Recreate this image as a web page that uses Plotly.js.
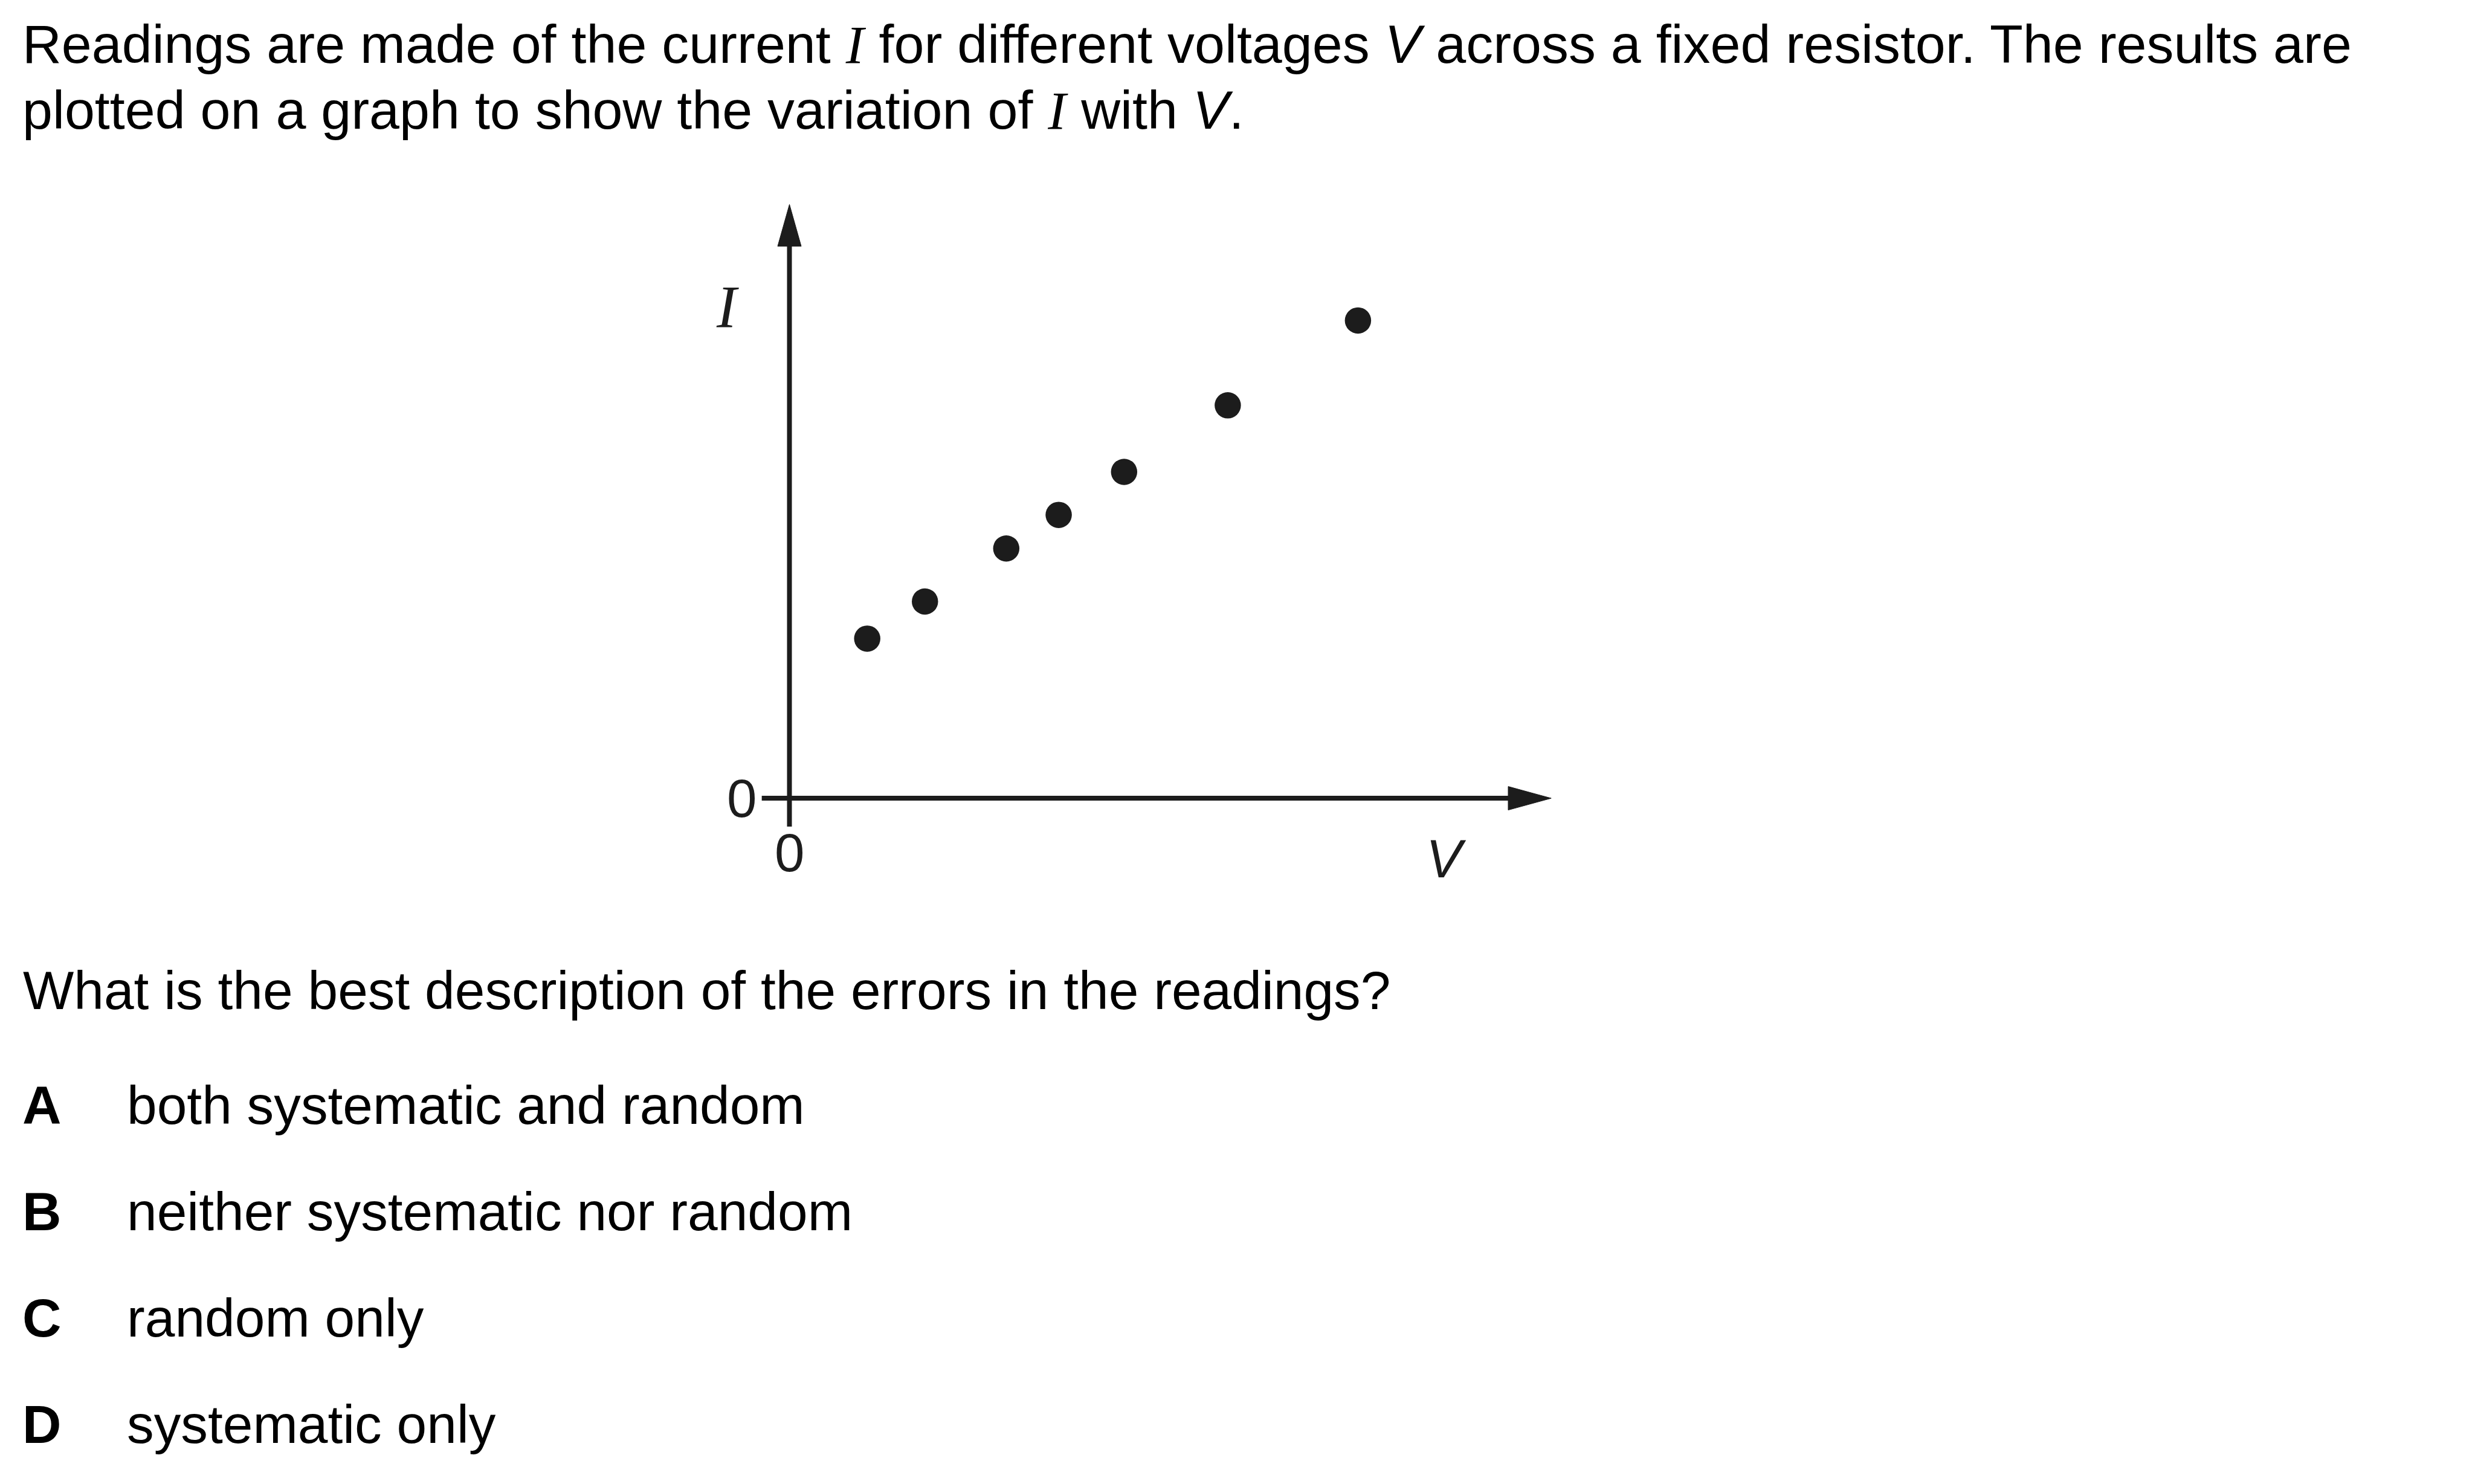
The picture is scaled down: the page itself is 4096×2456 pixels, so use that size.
<!DOCTYPE html>
<html>
<head>
<meta charset="utf-8">
<script src="https://cdn.plot.ly/plotly-3.0.1.min.js"></script>
<style>
  html, body { margin: 0; padding: 0; background: #ffffff; }
  #chart { width: 4096px; height: 2456px; }
</style>
</head>
<body>
<div id="chart"></div>
<script>
// ---- data (arbitrary units, origin at the axes' corner) ----
const voltage = [1.32, 2.30, 3.68, 4.57, 5.68, 7.44, 9.65];
const current = [2.71, 3.34, 4.24, 4.81, 5.54, 6.67, 8.11];

// axis extents (data units)
const xAxisStart = -0.47, xAxisEnd = 12.25, xArrowBase = 12.2, xArrowTip = 12.93;
const yAxisStart = -0.48, yAxisEnd = 9.42, yArrowBase = 9.37, yArrowTip = 10.08;
const arrowHalf = 0.2;

const tickLabels = ['0', '0'];
const axisNames = ['I', 'V'];

const introLines = [
  'Readings are made of the current <span style="font-family:Liberation Serif;font-style:italic">I</span> for different voltages <i>V</i> across a fixed resistor. The results are',
  'plotted on a graph to show the variation of <span style="font-family:Liberation Serif;font-style:italic">I</span> with <i>V</i>.'
];
const question = 'What is the best description of the errors in the readings?';
const optionLetters = ['A', 'B', 'C', 'D'];
const optionTexts = ['both systematic and random', 'neither systematic nor random', 'random only', 'systematic only'];

// ---- geometry (output pixels) ----
const W = 4096, H = 2456, S = 0.975;
const originX = 1340 * S, originY = 1355 * S, unit = 100 * S;
const xRange = [-originX / unit, (W - originX) / unit];
const yRange = [-(H - originY) / unit, originY / unit];
const px = x => x / W;            // paper x from output pixel
const py = y => 1 - y / H;        // paper y from output pixel

const ink = '#1c1c1c';
const sans = 'Liberation Sans, Arial, sans-serif';
const serif = 'Liberation Serif, Times New Roman, serif';
const fs = 89;

const trace = {
  type: 'scatter',
  mode: 'markers',
  x: voltage,
  y: current,
  marker: { size: 43.5, color: ink, line: { width: 0 } },
  hoverinfo: 'skip',
  cliponaxis: false
};

const shapes = [
  { type: 'line', xref: 'x', yref: 'y', x0: xAxisStart, y0: 0, x1: xAxisEnd, y1: 0, line: { color: ink, width: 8 } },
  { type: 'line', xref: 'x', yref: 'y', x0: 0, y0: yAxisStart, x1: 0, y1: yAxisEnd, line: { color: ink, width: 8 } },
  { type: 'path', xref: 'x', yref: 'y',
    path: `M ${xArrowBase} ${-arrowHalf} L ${xArrowTip} 0 L ${xArrowBase} ${arrowHalf} Z`,
    fillcolor: ink, line: { color: ink, width: 1 } },
  { type: 'path', xref: 'x', yref: 'y',
    path: `M ${-arrowHalf} ${yArrowBase} L 0 ${yArrowTip} L ${arrowHalf} ${yArrowBase} Z`,
    fillcolor: ink, line: { color: ink, width: 1 } }
];

const annotations = [];
function textAt(xp, yp, text, font, anchor) {
  annotations.push({ xref: 'paper', yref: 'paper', x: px(xp), y: py(yp), text: text,
    showarrow: false, xanchor: anchor || 'left', yanchor: 'middle', align: 'left', font: font });
}
const introFont = { family: sans, size: 89.8, color: '#000000' };
const bodyFont = { family: sans, size: 89.3, color: '#000000' };
const boldFont = { family: sans, size: 89.3, color: '#000000', weight: 'bold' };

textAt(35, 73.5, introLines[0], introFont);
textAt(35, 181.8, introLines[1], introFont);
textAt(36, 1638.5, question, bodyFont);
const optY = [1828.6, 2005.1, 2180.6, 2357.1];
optionLetters.forEach((L, i) => {
  textAt(35, optY[i], '<b>' + L + '</b>', boldFont);
  textAt(208, optY[i], optionTexts[i], bodyFont);
});

// graph labels in data coordinates
function dataText(x, y, text, font) {
  annotations.push({ xref: 'x', yref: 'y', x: x, y: y, text: text, showarrow: false,
    xanchor: 'center', yanchor: 'middle', font: font });
}
dataText(-0.81, 0, tickLabels[0], { family: sans, size: fs, color: ink });
dataText(0, -0.92, tickLabels[1], { family: sans, size: fs, color: ink });
dataText(-1.05, 8.34, '<i>' + axisNames[0] + '</i>', { family: serif, size: 99, color: ink });
dataText(11.15, -1.02, '<i>' + axisNames[1] + '</i>', { family: sans, size: fs, color: ink });

const layout = {
  width: W, height: H,
  margin: { l: 0, r: 0, t: 0, b: 0, pad: 0 },
  paper_bgcolor: '#ffffff', plot_bgcolor: '#ffffff',
  showlegend: false,
  xaxis: { range: xRange, autorange: false, visible: false, showgrid: false, zeroline: false, fixedrange: true },
  yaxis: { range: yRange, autorange: false, visible: false, showgrid: false, zeroline: false, fixedrange: true },
  shapes: shapes,
  annotations: annotations
};

Plotly.newPlot('chart', [trace], layout, { staticPlot: true, displayModeBar: false });
</script>
</body>
</html>
